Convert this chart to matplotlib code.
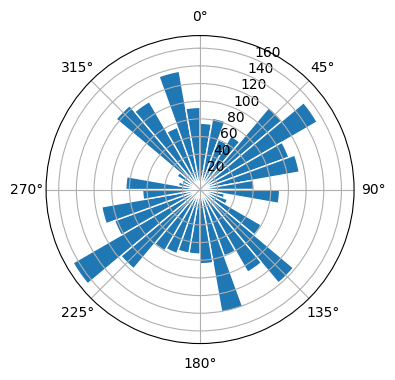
import numpy as np
import matplotlib.pyplot as plt

# 10 degree direction bins (left edge of each bin, degrees)
bin_start_deg = np.arange(0, 360, 10)
bin_width_deg = 10

# count per bin
counts = [75, 82, 60, 70, 121, 153, 107, 114, 61,
          90, 28, 33, 80, 138, 108, 80, 141, 84,
          73, 73, 77, 80, 117, 166, 103, 113, 65,
          84, 25, 22, 30, 124, 115, 75, 136, 93]

fig = plt.figure(figsize=(5, 4), dpi=100)
ax = fig.add_subplot(projection='polar')
ax.set_theta_zero_location('N')
ax.set_theta_direction(-1)

ax.bar(np.deg2rad(bin_start_deg), counts, width=np.deg2rad(bin_width_deg),
       align='edge', color='tab:blue', edgecolor='white')

fig.savefig('out.png', dpi=100, bbox_inches='tight')
